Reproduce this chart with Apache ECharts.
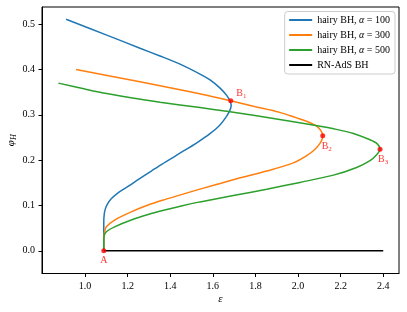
<!DOCTYPE html>
<html><head><meta charset="utf-8">
<script src="https://cdn.jsdelivr.net/npm/echarts@6/dist/echarts.min.js"></script>
<style>html,body{margin:0;padding:0;background:#fff}#c{width:407px;height:312px}</style>
</head><body><div id="c"></div>
<script>
// alpha = 100 (from A along lower branch, around turning point, then upper branch)
const a100Eps = [1.088,1.088,1.088,1.090,1.095,1.105,1.123,1.155,1.202,1.249,1.311,1.360,1.469,1.530,1.585,1.630,1.662,1.680,1.686,1.681,1.665,1.634,1.587,1.540,1.446,1.352,1.258,1.102,0.911];
const a100Phi = [0.000,0.040,0.062,0.080,0.092,0.103,0.115,0.128,0.142,0.157,0.176,0.191,0.222,0.240,0.258,0.276,0.295,0.310,0.320,0.330,0.343,0.359,0.377,0.390,0.412,0.430,0.447,0.476,0.511];
// alpha = 300
const a300Eps = [1.088,1.088,1.091,1.100,1.139,1.217,1.296,1.374,1.452,1.531,1.696,1.853,1.978,2.041,2.080,2.103,2.113,2.116,2.110,2.095,2.077,2.040,1.990,1.910,1.800,1.684,1.493,1.258,0.958];
const a300Phi = [0.000,0.025,0.040,0.053,0.068,0.086,0.101,0.113,0.124,0.135,0.157,0.176,0.194,0.210,0.224,0.237,0.246,0.254,0.263,0.272,0.278,0.286,0.294,0.306,0.318,0.331,0.351,0.373,0.400];
// alpha = 500
const a500Eps = [1.088,1.088,1.089,1.100,1.139,1.217,1.296,1.374,1.452,1.540,1.696,1.853,2.009,2.166,2.275,2.338,2.369,2.385,2.372,2.338,2.260,2.180,2.077,1.950,1.790,1.665,1.540,1.352,1.230,1.102,1.000,0.875];
const a500Phi = [0.000,0.015,0.031,0.042,0.053,0.068,0.080,0.090,0.099,0.108,0.122,0.136,0.151,0.167,0.184,0.199,0.212,0.224,0.236,0.245,0.259,0.268,0.277,0.287,0.299,0.308,0.316,0.328,0.3365,0.347,0.357,0.370];
// RN-AdS BH
const rnEps = [1.088, 2.400];
const rnPhi = [0.000, 0.000];

const seriesNames = ['hairy BH, α = 100', 'hairy BH, α = 300', 'hairy BH, α = 500', 'RN-AdS BH'];
const seriesColors = ['#1f77b4', '#ff7f0e', '#2ca02c', '#000000'];

// special points
const pointLabels = ['A', 'B1', 'B2', 'B3'];
const pointEps = [1.088, 1.684, 2.116, 2.385];
const pointPhi = [0.000, 0.331, 0.254, 0.224];

const xTicks = [1.0, 1.2, 1.4, 1.6, 1.8, 2.0, 2.2, 2.4];
const yTicks = [0.0, 0.1, 0.2, 0.3, 0.4, 0.5];

const FONT = '"Liberation Serif", "DejaVu Serif", serif';
const zip = (xs, ys) => xs.map((x, i) => [x, ys[i]]);
const curves = [[a100Eps, a100Phi], [a300Eps, a300Phi], [a500Eps, a500Phi], [rnEps, rnPhi]];

const lineSeries = curves.map((c, i) => ({
  type: 'line', name: seriesNames[i], data: zip(c[0], c[1]),
  showSymbol: false, smooth: i < 3 ? 0.3 : false,
  lineStyle: { color: seriesColors[i], width: 1.5 }, itemStyle: { color: seriesColors[i] },
  z: 2 + i
}));

const labelPos = {
  'A': { position: 'bottom', distance: 2, offset: [0, 0] },
  'B1': { position: 'right', distance: 3, offset: [0, -7] },
  'B2': { position: 'bottom', distance: 2, offset: [4, 0] },
  'B3': { position: 'bottom', distance: 2, offset: [3, 0] }
};
const pointData = pointLabels.map((n, i) => ({
  value: [pointEps[i], pointPhi[i]], name: n,
  label: Object.assign({ show: true }, labelPos[n])
}));

const pointSeries = {
  type: 'scatter', name: 'points', data: pointData, symbolSize: 5,
  itemStyle: { color: '#ff0000' }, z: 10,
  label: {
    show: true, color: '#ff0000', fontFamily: FONT, fontSize: 10,
    formatter: p => p.name.length > 1 ? '{b|' + p.name[0] + '}{s|' + p.name.slice(1) + '}' : '{b|' + p.name + '}',
    rich: {
      b: { fontFamily: FONT, fontSize: 10, color: '#ff0000' },
      s: { fontFamily: FONT, fontSize: 7, color: '#ff0000', padding: [5, 0, 0, 0] }
    }
  }
};

const chart = echarts.init(document.getElementById('c'));
chart.setOption({
  animation: false,
  backgroundColor: '#fff',
  grid: { left: 42, top: 7, right: 8, bottom: 38.5, show: true, borderColor: '#000', borderWidth: 1,
          containLabel: false, outerBoundsMode: 'none' },
  legend: {
    data: seriesNames, right: 12, top: 11.5, orient: 'vertical',
    icon: 'rect', itemWidth: 23, itemHeight: 2, itemGap: 5,
    padding: [3.5, 5, 4, 4.5],
    backgroundColor: 'rgba(255,255,255,0.8)', borderColor: '#cccccc', borderWidth: 1, borderRadius: 3,
    formatter: n => n.replace('α', '{i|α}'),
    textStyle: { fontFamily: FONT, fontSize: 10, color: '#000',
      rich: { i: { fontFamily: FONT, fontSize: 10, fontStyle: 'italic', color: '#000' } } }
  },
  xAxis: {
    type: 'value', min: 0.798, max: 2.474,
    name: 'ε', nameLocation: 'middle', nameGap: 20, nameMoveOverlap: false,
    nameTextStyle: { fontFamily: FONT, fontSize: 11, fontStyle: 'italic', color: '#000' },
    axisLine: { show: true, onZero: false, lineStyle: { color: '#000', width: 1 } },
    axisTick: { show: true, length: 3.5, customValues: xTicks, lineStyle: { color: '#000' } },
    axisLabel: { customValues: xTicks, formatter: v => v.toFixed(1), margin: 7.5, fontFamily: FONT, fontSize: 10, color: '#000' },
    splitLine: { show: false }
  },
  yAxis: {
    type: 'value', min: -0.050, max: 0.538,
    name: '{p|φ}{h|H}', nameLocation: 'middle', nameGap: 24, nameRotate: 90, nameMoveOverlap: false,
    nameTextStyle: { fontFamily: FONT, fontSize: 11, color: '#000',
      rich: { p: { fontFamily: FONT, fontSize: 11, fontStyle: 'italic', color: '#000' },
              h: { fontFamily: FONT, fontSize: 8, fontStyle: 'italic', color: '#000', padding: [5, 0, 0, 0] } } },
    axisLine: { show: true, onZero: false, lineStyle: { color: '#000', width: 1 } },
    axisTick: { show: true, length: 3.5, customValues: yTicks, lineStyle: { color: '#000' } },
    axisLabel: { customValues: yTicks, formatter: v => v.toFixed(1), margin: 7, fontFamily: FONT, fontSize: 10, color: '#000' },
    splitLine: { show: false }
  },
  series: lineSeries.concat([pointSeries])
});
</script></body></html>
